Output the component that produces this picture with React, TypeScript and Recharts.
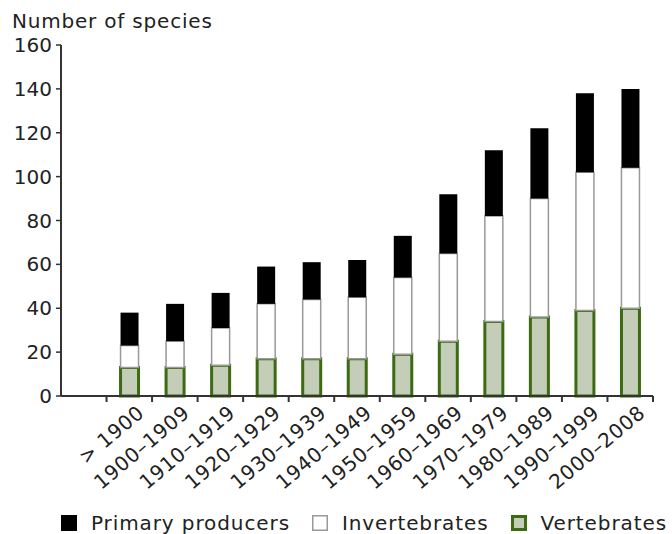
import React from 'react';
import { BarChart, Bar, XAxis, YAxis } from 'recharts';

// categories (first slot is left empty in the original)
const PERIODS = ['', '> 1900', '1900–1909', '1910–1919', '1920–1929', '1930–1939', '1940–1949',
  '1950–1959', '1960–1969', '1970–1979', '1980–1989', '1990–1999', '2000–2008'];

const VERTEBRATES = [null, 13, 13, 14, 17, 17, 17, 19, 25, 34, 36, 39, 40];
const INVERTEBRATES = [null, 10, 12, 17, 25, 27, 28, 35, 40, 48, 54, 63, 64];
const PRIMARY_PRODUCERS = [null, 15, 17, 16, 17, 17, 17, 19, 27, 30, 32, 36, 36];

const Y_TICKS = [0, 20, 40, 60, 80, 100, 120, 140, 160];

const data = PERIODS.map((period, i) => ({
  period,
  vertebrates: VERTEBRATES[i],
  invertebrates: INVERTEBRATES[i],
  primary: PRIMARY_PRODUCERS[i],
}));

const FONT = '"DejaVu Sans", Verdana, sans-serif';
const TEXT = '#222';
const AXIS = '#333';

const PeriodTick = (props: any) => {
  const { x, y, payload } = props;
  const half = payload && payload.offset ? payload.offset : 22.8;
  return (
    <g>
      <line x1={x + half} y1={y} x2={x + half} y2={y + 6} stroke={AXIS} strokeWidth={2} />
      {payload.value && (
        <g transform={`translate(${x + 7},${y + 8})`}>
          <g transform="rotate(-40)">
            <text
              x={0}
              y={0}
              dy="0.71em"
              textAnchor="end"
              fontSize={20}
              fontFamily={FONT}
              letterSpacing={0.6}
              fill={TEXT}
            >
              {payload.value}
            </text>
          </g>
        </g>
      )}
    </g>
  );
};

const legendItems = [
  { label: 'Primary producers', fill: '#000', stroke: '#000', width: 1 },
  { label: 'Invertebrates', fill: '#fff', stroke: '#999', width: 1.5 },
  { label: 'Vertebrates', fill: '#c3cdb8', stroke: '#3d6b12', width: 3 },
];

export default function App() {
  return (
    <div style={{ position: 'absolute', left: 0, top: 0, width: 672, height: 534, background: '#fff', fontFamily: FONT }}>
      <div style={{ position: 'absolute', left: 12, top: 9, fontSize: 20, letterSpacing: 0.8, color: TEXT }}>
        Number of species
      </div>
      <div style={{ position: 'absolute', left: 0, top: 0 }}>
        <BarChart
          width={672}
          height={500}
          data={data}
          margin={{ top: 45, right: 19, bottom: 4, left: 6 }}
          barSize={18}
        >
          <XAxis
            dataKey="period"
            interval={0}
            height={100}
            tickSize={0}
            tickMargin={0}
            tickLine={false}
            axisLine={{ stroke: AXIS, strokeWidth: 2 }}
            tick={<PeriodTick />}
          />
          <YAxis
            domain={[0, 160]}
            ticks={Y_TICKS}
            width={55}
            interval={0}
            tickSize={5}
            tickMargin={4}
            axisLine={{ stroke: AXIS, strokeWidth: 2 }}
            tickLine={{ stroke: AXIS, strokeWidth: 1.5 }}
            tick={{ fill: TEXT, fontSize: 20, fontFamily: FONT }}
          />
          <Bar dataKey="vertebrates" stackId="s" fill="#c3cdb8" stroke="#3d6b12" strokeWidth={3} isAnimationActive={false} />
          <Bar dataKey="invertebrates" stackId="s" fill="#fff" stroke="#999" strokeWidth={1.5} isAnimationActive={false} />
          <Bar dataKey="primary" stackId="s" fill="#000" isAnimationActive={false} />
        </BarChart>
      </div>
      <div style={{ position: 'absolute', left: 61, top: 511, display: 'flex', alignItems: 'center', fontSize: 20, letterSpacing: 0.9, color: TEXT }}>
        {legendItems.map((item, i) => (
          <div key={item.label} style={{ display: 'flex', alignItems: 'center', marginRight: i < 2 ? 22 : 0 }}>
            <svg width={16} height={16} style={{ marginRight: 14 }}>
              <rect
                x={item.width / 2}
                y={item.width / 2}
                width={16 - item.width}
                height={16 - item.width}
                fill={item.fill}
                stroke={item.stroke}
                strokeWidth={item.width}
              />
            </svg>
            <span>{item.label}</span>
          </div>
        ))}
      </div>
    </div>
  );
}
